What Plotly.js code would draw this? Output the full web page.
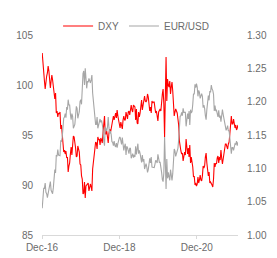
<!DOCTYPE html>
<html>
<head>
<meta charset="utf-8">
<script src="https://cdn.plot.ly/plotly-3.0.1.min.js"></script>
<style>html,body{margin:0;padding:0;background:#fff;}#chart{width:277px;height:258px;}</style>
</head>
<body>
<div id="chart"></div>
<script>
// Weekly observations, Mondays starting 2017-01-02
var startDate = '2017-01-02';
var dxy = [
// 2017
103.2,101.9,100.9,100.4,
99.6,100.8,100.9,101.2,101.9,
101.4,100.3,99.7,100.4,
101.0,100.5,99.8,99.0,
98.6,99.2,97.2,97.4,96.8,
97.2,97.1,97.3,95.6,
96.0,95.2,94.0,93.3,93.5,
93.1,93.4,92.7,92.8,
91.3,91.9,92.2,93.1,
93.8,93.0,93.7,94.9,94.8,
94.4,93.7,92.8,92.9,
93.9,93.6,93.3,92.1,
// 2018
92.0,90.9,90.6,89.1,89.2,
90.3,88.7,89.9,90.0,
90.1,90.2,89.4,90.1,
90.1,89.8,89.4,91.6,92.6,
92.6,93.6,94.3,94.2,
93.6,94.8,94.5,94.6,
94.0,94.7,94.5,94.2,95.2,
96.2,96.9,95.1,95.1,
95.4,94.9,94.2,95.2,
95.6,95.2,95.7,96.4,96.9,
96.9,96.5,96.8,97.2,
96.7,97.5,96.9,96.4,96.2,
// 2019
95.7,96.3,95.8,95.6,
96.5,96.9,96.5,96.5,
97.3,96.6,96.6,97.3,
97.4,97.0,97.4,98.0,97.5,
97.3,98.0,97.8,97.8,
96.5,97.6,96.2,96.1,
97.3,96.8,97.2,98.1,98.5,
97.5,98.0,98.2,98.9,
98.4,98.3,98.5,99.1,98.8,
98.3,97.4,97.8,97.2,
98.4,98.2,98.3,98.3,
97.7,97.2,97.4,96.9,96.4,
// 2020
97.3,97.4,97.6,97.4,
98.7,99.1,99.6,98.1,
94.8,98.7,102.8,98.4,100.6,
100.0,99.8,100.4,99.1,
99.8,100.3,99.4,98.4,
96.9,97.3,97.6,97.4,97.2,
96.6,96.0,94.4,93.4,
93.4,93.1,93.2,92.4,92.7,
93.3,93.0,94.6,93.8,
93.1,93.7,92.8,94.0,
92.2,92.8,92.4,91.8,90.8,
90.9,90.0,90.2,89.9,
// 2021
90.1,90.8,90.2,90.5,
91.0,90.5,90.4,90.9,
91.9,91.7,91.9,92.8,93.2,
92.2,91.6,90.9,91.3,
90.2,90.3,90.0,90.0,89.8,
90.6,92.2,91.8,92.2,
92.1,92.7,92.9,92.2,
92.8,92.5,93.5,92.7,92.1,
92.6,93.2,93.3,94.1,
94.1,93.6,93.6,94.1,
94.3,95.1,95.9,96.9,96.1,
96.1,96.6,96.1,95.7,
// 2022
96.0,95.5,95.7,96.0
];
var eurusd = [
// 2017
1.040,1.062,1.070,1.070,
1.078,1.064,1.062,1.056,1.062,
1.067,1.074,1.080,1.067,
1.064,1.062,1.071,1.090,
1.098,1.093,1.120,1.118,1.128,
1.120,1.120,1.119,1.142,
1.140,1.147,1.166,1.175,1.177,
1.182,1.176,1.192,1.188,
1.203,1.195,1.195,1.181,
1.173,1.182,1.178,1.160,1.166,
1.166,1.179,1.193,1.190,
1.175,1.180,1.185,1.200,
// 2018
1.203,1.196,1.222,1.242,1.246,
1.225,1.250,1.229,1.220,
1.231,1.229,1.235,1.232,
1.228,1.233,1.240,1.213,1.198,
1.194,1.177,1.166,1.166,
1.177,1.160,1.165,1.168,
1.174,1.169,1.172,1.166,1.158,
1.141,1.134,1.162,1.160,
1.156,1.162,1.177,1.161,
1.152,1.156,1.151,1.140,1.139,
1.134,1.141,1.134,1.132,
1.138,1.131,1.137,1.144,1.146,
// 2019
1.147,1.137,1.136,1.146,
1.133,1.127,1.133,1.137,
1.120,1.133,1.131,1.122,
1.122,1.130,1.130,1.115,1.120,
1.122,1.116,1.120,1.117,
1.133,1.121,1.137,1.137,
1.122,1.127,1.122,1.113,1.109,
1.120,1.110,1.114,1.099,
1.103,1.107,1.102,1.094,1.098,
1.104,1.115,1.108,1.117,
1.102,1.102,1.102,1.101,
1.106,1.112,1.111,1.108,1.121,
// 2020
1.112,1.109,1.109,1.103,
1.094,1.083,1.080,1.093,
1.147,1.110,1.069,1.114,1.085,
1.094,1.087,1.082,1.098,
1.084,1.082,1.092,1.110,
1.129,1.126,1.118,1.122,1.125,
1.130,1.143,1.165,1.178,
1.179,1.184,1.179,1.190,1.184,
1.184,1.184,1.163,1.171,
1.182,1.174,1.186,1.165,
1.188,1.183,1.185,1.196,1.212,
1.211,1.226,1.221,1.227,
// 2021
1.222,1.208,1.217,1.214,
1.205,1.212,1.212,1.208,
1.191,1.195,1.190,1.179,1.173,
1.188,1.198,1.209,1.202,
1.216,1.214,1.225,1.219,1.217,
1.211,1.186,1.194,1.186,
1.187,1.181,1.177,1.187,
1.176,1.179,1.170,1.179,1.188,
1.181,1.173,1.172,1.160,
1.157,1.160,1.164,1.156,
1.157,1.145,1.129,1.122,1.131,
1.131,1.127,1.133,1.137,
// 2022
1.136,1.141,1.134,1.139
];
var xRange = ['2016-12-31','2022-01-24'];
var tickDates = ['2016-12-31','2018-12-31','2020-12-31'];
var tickLabels = ['Dec-16','Dec-18','Dec-20'];
var leftTicks = [85,90,95,100,105];
var rightTicks = [1.00,1.05,1.10,1.15,1.20,1.25,1.30];

function weeklyDates(start, n){
  var out=[]; var d=new Date(start+'T00:00:00Z');
  for(var i=0;i<n;i++){ var t=new Date(d.getTime()+i*7*86400000); out.push(t.toISOString().slice(0,10)); }
  return out;
}
var dates = weeklyDates(startDate, Math.max(dxy.length, eurusd.length));

var txt = '#6b6b6b';
var font = {family:'Arial, "Liberation Sans", sans-serif', size:10, color:txt};
var traces = [
  {x:dates.slice(0,dxy.length), y:dxy, name:'DXY', type:'scatter', mode:'lines', line:{color:'#ff0000', width:1.1}, yaxis:'y'},
  {x:dates.slice(0,eurusd.length), y:eurusd, name:'EUR/USD', type:'scatter', mode:'lines', line:{color:'#a6a6a6', width:1.1}, yaxis:'y2'}
];
var layout = {
  width:277, height:258,
  margin:{l:42, r:39, t:20, b:23, pad:0},
  paper_bgcolor:'#ffffff', plot_bgcolor:'#ffffff',
  font:font,
  showlegend:true,
  legend:{orientation:'h', x:0.48, xanchor:'center', y:1.045, yanchor:'middle', font:font, bgcolor:'rgba(0,0,0,0)', itemwidth:30, traceorder:'reversed'},
  xaxis:{type:'date', range:xRange, tickvals:tickDates, ticktext:tickLabels, showgrid:false, zeroline:false,
    showline:true, linecolor:'#d9d9d9', linewidth:1, ticks:'outside', ticklen:3, tickcolor:'#d9d9d9', tickfont:font, fixedrange:true},
  yaxis:{range:[85,105], tickvals:leftTicks, showgrid:false, zeroline:false, showline:false, ticks:'', tickfont:font, ticklabelstandoff:8},
  yaxis2:{range:[1.00,1.30], tickvals:rightTicks, tickformat:'.2f', overlaying:'y', side:'right', showgrid:false, zeroline:false, showline:false, ticks:'', tickfont:font, ticklabelstandoff:8}
};
Plotly.newPlot('chart', [traces[1], traces[0]], layout, {staticPlot:true, displayModeBar:false});
</script>
</body>
</html>
